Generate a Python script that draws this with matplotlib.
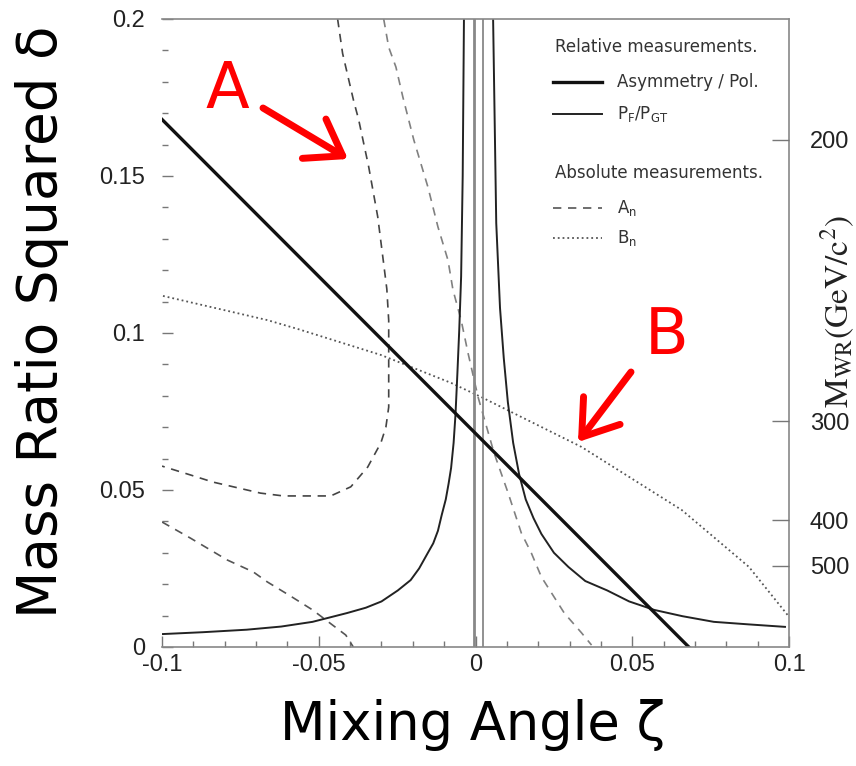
import numpy as np
import matplotlib.pyplot as plt
from matplotlib.ticker import MultipleLocator

plt.rcParams['font.family'] = 'Liberation Sans'

# asymmetry / polarisation constraint (straight band edge)
asym_x = [-0.1, 0.068]
asym_y = [0.168, 0.0]

# P_F / P_GT constraint, two branches around zeta = 0
pf_left_x = [-0.1, -0.087, -0.073, -0.062, -0.052, -0.041, -0.035, -0.030,
             -0.0248, -0.0207, -0.018, -0.0152, -0.0135, -0.012, -0.0108,
             -0.0095, -0.0086, -0.0078, -0.0070, -0.0064, -0.0058, -0.0052,
             -0.0046, -0.0041, -0.0037]
pf_left_y = [0.0041, 0.0047, 0.0055, 0.0065, 0.008, 0.0108, 0.0125, 0.0145,
             0.0180, 0.0213, 0.025, 0.030, 0.033, 0.037, 0.042,
             0.047, 0.052, 0.057, 0.065, 0.074, 0.087, 0.101,
             0.118, 0.15, 0.2]
pf_right_x = [0.0056, 0.0066, 0.0078, 0.0090, 0.0103, 0.0120, 0.0139, 0.016,
              0.0185, 0.021, 0.025, 0.0296, 0.035, 0.042, 0.049, 0.057,
              0.066, 0.076, 0.087, 0.0987]
pf_right_y = [0.2, 0.135, 0.108, 0.092, 0.078, 0.065, 0.055, 0.047,
              0.041, 0.036, 0.030, 0.0255, 0.021, 0.018, 0.0145, 0.0118,
              0.0098, 0.008, 0.0072, 0.0064]
pf_vlines = [-0.0005, 0.0024]

# A_n band edges
an_upper_x = [-0.044, -0.0424, -0.0389, -0.0373, -0.0341, -0.0312, -0.0293,
              -0.0283, -0.0277, -0.0277, -0.0286, -0.0302, -0.0344, -0.0398,
              -0.0462, -0.0613, -0.0686, -0.0837, -0.091, -0.1]
an_upper_y = [0.2, 0.189, 0.174, 0.168, 0.153, 0.137, 0.122, 0.114, 0.104,
              0.0764, 0.070, 0.065, 0.0573, 0.051, 0.0481, 0.0481, 0.049,
              0.0525, 0.0548, 0.0576]
an_right_x = [-0.0293, -0.0277, -0.0254, -0.0232, -0.0197, -0.0152, -0.012,
              -0.0088, -0.0072, -0.0046, -0.0024, 0.0008, 0.0059, 0.0104,
              0.0146, 0.0178, 0.021, 0.0283, 0.0338, 0.037]
an_right_y = [0.2, 0.191, 0.1847, 0.1752, 0.1615, 0.1465, 0.1338, 0.1232,
              0.1137, 0.1041, 0.0936, 0.0796, 0.0618, 0.049, 0.0363, 0.0299,
              0.0223, 0.0108, 0.0045, 0.0006]
an_lower_x = [-0.1, -0.091, -0.0792, -0.0709, -0.0664, -0.059, -0.052, -0.0414, -0.039]
an_lower_y = [0.0398, 0.0347, 0.0277, 0.0239, 0.0207, 0.0162, 0.0118, 0.0038, 0.0]

# B_n
bn_x = [-0.0997, -0.0664, -0.0568, -0.0302, -0.0078, 0.0018, 0.0338, 0.0658, 0.0872, 0.1]
bn_y = [0.1118, 0.1041, 0.1013, 0.093, 0.0841, 0.0796, 0.0637, 0.0436, 0.0255, 0.0096]

xticks = [-0.1, -0.05, 0, 0.05, 0.1]
xticklabels = ['-0.1', '-0.05', '0', '0.05', '0.1']
yticks = [0, 0.05, 0.1, 0.15, 0.2]
yticklabels = ['0', '0.05', '0.1', '0.15', '0.2']
mwl = 80.4
mwr_ticks = [200, 300, 400, 500]

fig = plt.figure(figsize=(8.56, 7.66), dpi=100)
ax = fig.add_axes([0.1893, 0.1554, 0.7325, 0.8198])

grey = '#777777'
ax.plot(an_upper_x, an_upper_y, color='#444444', lw=1.2, dashes=(5, 4))
ax.plot(an_right_x, an_right_y, color='#808080', lw=1.2, dashes=(5, 4))
ax.plot(an_lower_x, an_lower_y, color='#555555', lw=1.2, dashes=(5, 4))
ax.plot(bn_x, bn_y, color='#555555', lw=1.3, ls=':')
for xv in pf_vlines:
    ax.axvline(xv, color='#888888', lw=2.0 if xv < 0 else 1.3)
ax.plot(pf_left_x, pf_left_y, color='#222222', lw=1.4)
ax.plot(pf_right_x, pf_right_y, color='#222222', lw=1.4)
ax.plot(asym_x, asym_y, color='#111111', lw=2.4)

ax.set_xlim(-0.1, 0.1)
ax.set_ylim(0, 0.2)
ax.set_xticks(xticks)
ax.set_xticklabels(xticklabels)
ax.set_yticks(yticks)
ax.set_yticklabels(yticklabels)
ax.xaxis.set_minor_locator(MultipleLocator(0.01))
ax.yaxis.set_minor_locator(MultipleLocator(0.01))
ax.tick_params(which='both', direction='in', color=grey, width=1,
               labelsize=17, labelcolor='#222222')
ax.tick_params(which='major', length=8)
ax.tick_params(which='minor', length=4.5)
ax.tick_params(axis='y', pad=12)
ax.tick_params(axis='x', pad=5)
ax.spines['left'].set_visible(False)
for s in ['top', 'bottom', 'right']:
    ax.spines[s].set_color('#888888')
    ax.spines[s].set_linewidth(1.2)

# right-hand mass scale, delta = (M_WL / M_WR)^2
ax2 = ax.twinx()
ax2.set_ylim(0, 0.2)
ax2.set_yticks([(mwl / m) ** 2 for m in mwr_ticks])
ax2.set_yticklabels([str(m) for m in mwr_ticks])
ax2.tick_params(direction='in', length=12, width=1, color=grey, pad=15,
                labelsize=17, labelcolor='#222222')
for s in ax2.spines.values():
    s.set_visible(False)

fig.text(838 / 856, 1 - 312 / 766, r'$\mathrm{M_{WR}(GeV/c^{2})}$', rotation=90,
         fontsize=24, ha='center', va='center', math_fontfamily='stix',
         color='#222222')

# legend drawn by hand with section headers
lx0, lx1, tx = 0.624, 0.702, 0.726
lfont = dict(family='DejaVu Sans', fontsize=12, color='#333333',
             transform=ax.transAxes, va='center')
ax.text(0.627, 0.955, 'Relative measurements.', **lfont)
ax.plot([lx0, lx1], [0.900, 0.900], color='#111111', lw=2.4, transform=ax.transAxes)
ax.text(tx, 0.900, 'Asymmetry / Pol.', **lfont)
ax.plot([lx0, lx1], [0.849, 0.849], color='#222222', lw=1.4, transform=ax.transAxes)
ax.text(tx, 0.849, r'$\mathsf{P_F/P_{GT}}$', **lfont)
ax.text(0.627, 0.755, 'Absolute measurements.', **lfont)
ax.plot([lx0, lx1], [0.699, 0.699], color='#555555', lw=1.2, dashes=(5, 4),
        transform=ax.transAxes)
ax.text(tx, 0.699, r'$\mathsf{A_n}$', **lfont)
ax.plot([lx0, lx1], [0.651, 0.651], color='#555555', lw=1.3, ls=':',
        transform=ax.transAxes)
ax.text(tx, 0.651, r'$\mathsf{B_n}$', **lfont)

# big axis titles
fig.text(473 / 856, 1 - 725 / 766, 'Mixing Angle ζ', fontsize=38,
         family='DejaVu Sans', ha='center', va='center')
fig.text(42 / 856, 1 - 322 / 766, 'Mass Ratio Squared δ', fontsize=39.5,
         family='DejaVu Sans', ha='center', va='center', rotation=90)

# red call-outs
arrow = dict(arrowstyle='->,head_length=0.8,head_width=0.55', color='red',
             lw=5, mutation_scale=30, shrinkA=0, shrinkB=0)
fig.text(227 / 856, 1 - 90 / 766, 'A', fontsize=46, color='red',
         family='DejaVu Sans', ha='center', va='center')
ax.annotate('', xy=(348 / 856, 1 - 159 / 766), xytext=(263 / 856, 1 - 108 / 766),
            xycoords='figure fraction', textcoords='figure fraction',
            arrowprops=arrow)
fig.text(667 / 856, 1 - 336 / 766, 'B', fontsize=46, color='red',
         family='DejaVu Sans', ha='center', va='center')
ax.annotate('', xy=(578 / 856, 1 - 442 / 766), xytext=(631 / 856, 1 - 372 / 766),
            xycoords='figure fraction', textcoords='figure fraction',
            arrowprops=arrow)

fig.savefig('out.png', dpi=100)
